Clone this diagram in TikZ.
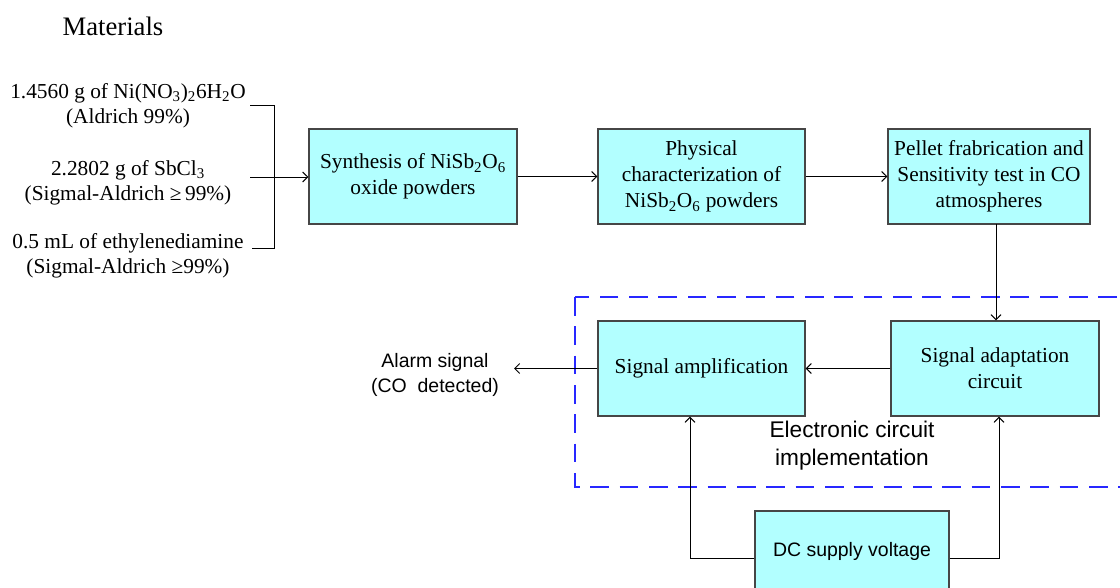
\documentclass[tikz,border=0pt]{standalone}
\usepackage{fontspec}
\setmainfont{Liberation Serif}
\setsansfont{Liberation Sans}
\usetikzlibrary{arrows.meta,calc}
\definecolor{boxfill}{RGB}{178,255,255}
\definecolor{boxline}{RGB}{70,70,70}
\definecolor{dashblue}{RGB}{40,40,255}
\newcommand{\sbs}[1]{\textsubscript{#1}}
\tikzset{
  blk/.style={draw=boxline, line width=1pt, fill=boxfill, align=center,
    font=\fontsize{16}{19.5}\selectfont, inner sep=0pt},
  arr/.style={-{Straight Barb[length=3.8pt,width=7.5pt]}, line width=0.7pt},
  ln/.style={line width=0.7pt},
  mat/.style={align=center, font=\fontsize{16}{19}\selectfont},
  sans/.style={align=center, font=\sffamily\fontsize{14.6}{18.8}\selectfont},
}
\begin{document}
\begin{tikzpicture}[x=0.75pt,y=-0.75pt]
\clip (0,0) rectangle (1120,588);
\useasboundingbox (0,0) rectangle (1120,588);
\fill[white] (0,0) rectangle (1120,588);

\node[font=\fontsize{20}{24}\selectfont] (title) at (113,26) {Materials};

\node[mat] (m1) at (128,105.5) {1.4560 g of Ni(NO\sbs{3})\sbs{2}6H\sbs{2}O\\(Aldrich 99\%)};
\node[mat] (m2) at (128,183) {2.2802 g of SbCl\sbs{3}\\(Sigmal-Aldrich ≥\,99\%)};
\node[mat] (m3) at (128,255.5) {0.5 mL of ethylenediamine\\(Sigmal-Aldrich ≥99\%)};

\node[blk, minimum width=208*0.75pt, minimum height=95*0.75pt] (syn) at (413,176.5) {Synthesis of NiSb\sbs{2}O\sbs{6}\\oxide powders};
\node[blk, minimum width=207*0.75pt, minimum height=95*0.75pt] (phy) at (701.5,176.5) {Physical\\characterization of\\NiSb\sbs{2}O\sbs{6} powders};
\node[blk, minimum width=202*0.75pt, minimum height=95*0.75pt] (pel) at (989,176.5) {Pellet frabrication and\\Sensitivity test in CO\\atmospheres};

\draw[dashblue, line width=1.1pt, dash pattern=on 14pt off 8pt] (575,297) rectangle (1140,487);

\node[blk, minimum width=207*0.75pt, minimum height=95*0.75pt] (amp) at (701.5,368.5) {Signal amplification};
\node[blk, minimum width=208*0.75pt, minimum height=95*0.75pt] (ada) at (995,368.5) {Signal adaptation\\circuit};
\node[blk, minimum width=194*0.75pt, minimum height=80*0.75pt, font=\sffamily\fontsize{14.6}{18}\selectfont] (dc) at (852,551) {DC supply voltage};

\node[sans] (alarm) at (435,374.5) {Alarm signal\\(CO\ \ detected)};
\node[align=center, font=\sffamily\fontsize{17}{21}\selectfont] (elec) at (852,446) {Electronic circuit\\implementation};

% bracket
\coordinate (b1) at (250,105);
\coordinate (b2) at (274,105);
\coordinate (b3) at (274,248);
\coordinate (b4) at (252,248);
\coordinate (b5) at (250,177);
\draw[ln] (b1) -- (b2) -- (b3) -- (b4);
\draw[arr] (b5) -- (b5 -| syn.west);

\draw[arr] (syn.east) -- (phy.west);
\draw[arr] (phy.east) -- (pel.west);
\coordinate (pd) at (996,224);
\draw[arr] (pd) -- (pd |- ada.north);
\draw[arr] (ada.west) -- (amp.west -| amp.east);
\coordinate (al) at (514,368.5);
\draw[arr] (amp.west) -- (al);

\coordinate (dl) at ($(dc.west)+(0,7)$);
\coordinate (dr) at ($(dc.east)+(0,7)$);
\coordinate (ampin) at ($(amp.south)+(-11.5,0)$);
\coordinate (adain) at ($(ada.south)+(4,0)$);
\draw[arr] (dl) -| (ampin);
\draw[arr] (dr) -| (adain);
\end{tikzpicture}
\end{document}
